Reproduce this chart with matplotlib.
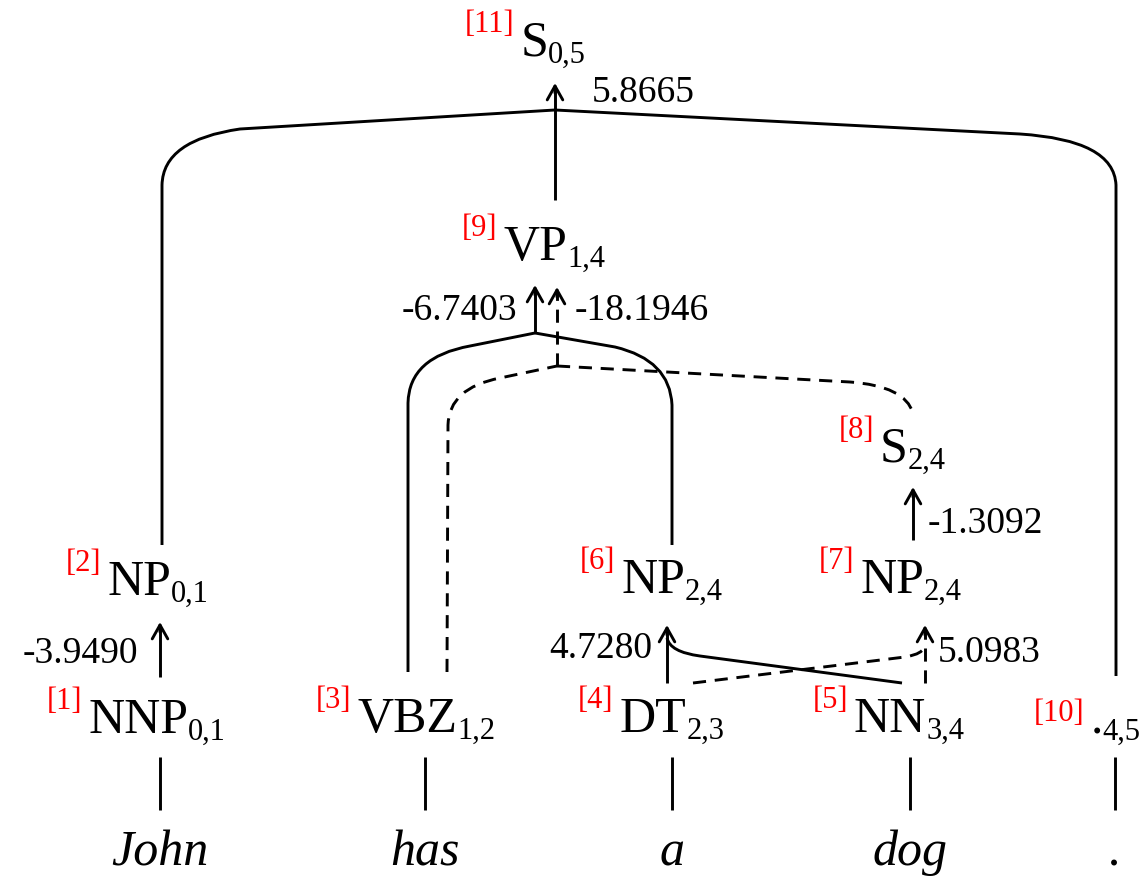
import matplotlib
matplotlib.use('Agg')
import matplotlib.pyplot as plt
from matplotlib.path import Path
from matplotlib.patches import PathPatch

plt.rcParams['font.family'] = ['Liberation Serif', 'DejaVu Serif']

# node data: index, label, span
node_ids = [1, 2, 3, 4, 5, 6, 7, 8, 9, 10, 11]
node_labels = ['NNP', 'NP', 'VBZ', 'DT', 'NN', 'NP', 'NP', 'S', 'VP', '.', 'S']
node_spans = ['0,1', '0,1', '1,2', '2,3', '3,4', '2,4', '2,4', '2,4', '1,4', '4,5', '0,5']

words = ['John', 'has', 'a', 'dog', '.']

# hyperedges: head <- tails, score, dashed or not
edge_heads = [2, 6, 7, 8, 9, 9, 11]
edge_tails = [[1], [4, 5], [4, 5], [7], [3, 6], [3, 8], [2, 9, 10]]
edge_scores = [-3.9490, 4.7280, 5.0983, -1.3092, -6.7403, -18.1946, 5.8665]
edge_dashed = [False, False, True, False, False, True, False]

# layout (pixel coords, y downwards)
node_pos = {1: (157, 733), 2: (158, 595), 3: (426, 732), 4: (672, 732),
            5: (909, 732), 6: (672, 593), 7: (911, 593), 8: (913, 462),
            9: (554, 260), 10: (1116, 733), 11: (553, 56)}
word_x = [160, 425, 672, 910, 1115]
LW = 2.1
DASH = (0, (4.5, 3))
FS_MAIN, FS_SUB, FS_IDX, FS_NUM = 36, 22, 22, 27

fig = plt.figure(figsize=(11.46, 8.8), dpi=100)
ax = fig.add_axes([0, 0, 1, 1])
ax.set_xlim(0, 1146)
ax.set_ylim(880, 0)
ax.axis('off')


def curve(segs, dashed=False):
    # segs: list of (code, (x, y)); first one is a move
    verts = [p for _, p in segs]
    codes = [c for c, _ in segs]
    ax.add_patch(PathPatch(Path(verts, codes), fill=False, lw=LW, ec='black',
                           ls=DASH if dashed else '-', capstyle='butt'))


def vline(x, y0, y1, dashed=False):
    ax.plot([x, x], [y0, y1], color='black', lw=LW,
            ls=DASH if dashed else '-', solid_capstyle='butt')


def arrow(x, y0, tip, dashed=False):
    vline(x, y0, tip + 5, dashed)
    ax.annotate('', xy=(x, tip), xytext=(x, tip + 10),
                arrowprops=dict(arrowstyle='->,head_length=0.5,head_width=0.28',
                                lw=LW, color='black', shrinkA=0, shrinkB=0,
                                mutation_scale=20))


M, L, C = Path.MOVETO, Path.LINETO, Path.CURVE3

# words and word -> tag lines
for w, x in zip(words, word_x):
    ax.text(x, 865, w, fontsize=36, style='italic', ha='center', va='baseline')
    vline(x, 757, 810)

# node labels: main label + span subscript + red index, centred on column
texts = {}
for nid, lab, span in zip(node_ids, node_labels, node_spans):
    x, y = node_pos[nid]
    if lab == '.':
        # the period node is placed by hand
        ax.text(1097, y, lab, fontsize=FS_MAIN, ha='center', va='baseline')
        ax.text(1102, y + 7, span, fontsize=FS_SUB, ha='left', va='baseline')
        ax.text(1084, y - 12, f'[{nid}]', fontsize=FS_IDX, color='red',
                ha='right', va='baseline')
        continue
    t = ax.text(x, y, lab, fontsize=FS_MAIN, ha='left', va='baseline')
    s = ax.text(x, y + 7, span, fontsize=FS_SUB, ha='left', va='baseline')
    texts[nid] = (t, s)

fig.canvas.draw()
r = fig.canvas.get_renderer()
for nid, (t, s) in texts.items():
    x, y = node_pos[nid]
    wm = t.get_window_extent(r).width
    ws = s.get_window_extent(r).width
    left = x - (wm + ws) / 2
    t.set_x(left)
    s.set_x(left + wm)
    ax.text(left - 6, y - 24, f'[{nid}]', fontsize=FS_IDX, color='red',
            ha='right', va='baseline')

# edge 0: NNP -> NP(0,1)
arrow(160, 677, 622)
ax.text(138, 663, f'{edge_scores[0]:.4f}', fontsize=FS_NUM, ha='right', va='baseline')

# edge 1: DT, NN -> NP(2,4) [6]
arrow(667, 683, 625)
curve([(M, (902, 683)), (L, (700, 656)), (C, (670, 652)), (C, (667, 638))])
ax.text(652, 658, f'{edge_scores[1]:.4f}', fontsize=FS_NUM, ha='right', va='baseline')

# edge 2: DT, NN -> NP(2,4) [7] (dashed)
arrow(925, 683, 625, dashed=True)
curve([(M, (693, 683)), (L, (905, 657)), (C, (924, 654)), (C, (925, 645))], dashed=True)
ax.text(938, 662, f'{edge_scores[2]:.4f}', fontsize=FS_NUM, ha='left', va='baseline')

# edge 3: NP -> S(2,4)
arrow(913, 540, 487)
ax.text(928, 533, f'{edge_scores[3]:.4f}', fontsize=FS_NUM, ha='left', va='baseline')

# edge 4: VBZ, NP[6] -> VP (solid)
curve([(M, (408, 672)), (L, (408, 403)), (C, (409, 357)), (C, (470, 346)), (L, (535, 333))])
curve([(M, (535, 333)), (L, (615, 347)), (C, (670, 360)), (C, (672, 405)), (L, (672, 545))])
arrow(535, 333, 285)
ax.text(517, 320, f'{edge_scores[4]:.4f}', fontsize=FS_NUM, ha='right', va='baseline')

# edge 5: VBZ, S(2,4) -> VP (dashed)
curve([(M, (447, 672)), (L, (448, 425)), (C, (449, 388)), (C, (500, 378)), (L, (557, 366))], dashed=True)
curve([(M, (557, 366)), (L, (850, 382)), (C, (905, 386)), (C, (913, 413))], dashed=True)
arrow(557, 366, 287, dashed=True)
ax.text(575, 320, f'{edge_scores[5]:.4f}', fontsize=FS_NUM, ha='left', va='baseline')

# edge 6: NP(0,1), VP, . -> S(0,5)
curve([(M, (162, 545)), (L, (162, 185)), (C, (163, 140)), (C, (240, 129)), (L, (555, 110))])
curve([(M, (555, 110)), (L, (1020, 134)), (C, (1114, 140)), (C, (1116, 185)), (L, (1116, 676))])
vline(555, 200, 110)
arrow(555, 110, 83)
ax.text(592, 102, f'{edge_scores[6]:.4f}', fontsize=FS_NUM, ha='left', va='baseline')

fig.savefig('out.png', dpi=100)
